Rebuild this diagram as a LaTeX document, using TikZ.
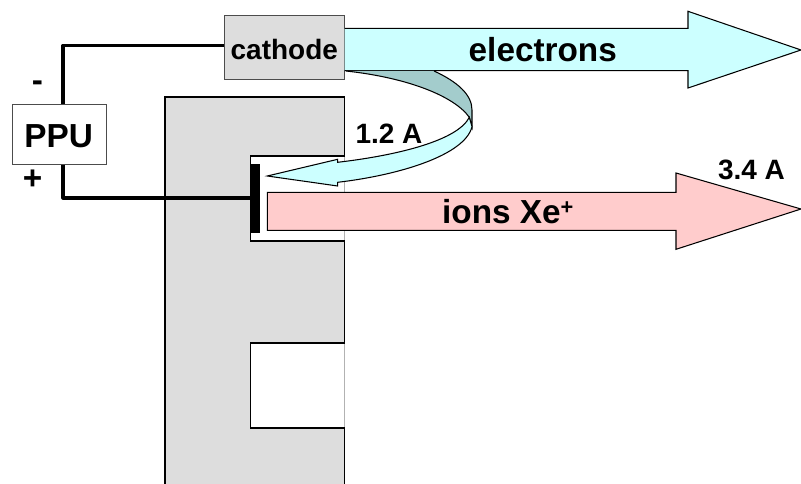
\documentclass[tikz,border=0pt]{standalone}
\usepackage{fontspec}
\setmainfont{Liberation Sans}
\usetikzlibrary{arrows}

\definecolor{bodygray}{HTML}{DDDDDD}
\definecolor{beamcyan}{HTML}{CCFFFF}
\definecolor{beampink}{HTML}{FFCCCC}
\definecolor{beamteal}{HTML}{A3CCCC}

\tikzset{
    edge/.style={draw=black, line width=0.75pt, line join=miter},
    wire/.style={line width=2.25pt, black, line join=round},
    bigtext/.style={font=\fontsize{23.7}{26}\bfseries\selectfont, inner sep=0pt, anchor=base},
    smalltext/.style={font=\fontsize{19.9}{22}\bfseries\selectfont, inner sep=0pt, anchor=base}
}

\begin{document}
\begin{tikzpicture}[x=0.025cm, y=-0.025cm]
        \useasboundingbox (0,0) rectangle (801,484);

        \coordinate (A) at (165,484);
        \coordinate (B) at (165,97);
        \coordinate (C) at (344.5,97);
        \coordinate (D) at (344.5,156);
        \coordinate (E) at (250.5,156);
        \coordinate (F) at (250.5,241);
        \coordinate (G) at (344.5,241);
        \coordinate (H) at (344.5,343);
        \coordinate (I) at (250.5,343);
        \coordinate (J) at (250.5,428);
        \coordinate (K) at (344.5,428);
        \coordinate (L) at (344.5,484);
        \coordinate (wireTop) at (63,45.5);
        \coordinate (wireLow) at (63,198);

        % thruster body
        \fill[bodygray] (A) -- (B) -- (C) -- (D) -- (E) -- (F) -- (G) -- (H) -- (I) -- (J) -- (K) -- (L) -- cycle;
        \draw[gray!60, line width=0.6pt] (D) -- (G);
        \draw[gray!60, line width=0.6pt] (H) -- (K);
        \draw[edge] (A) -- (B) -- (C) -- (D) -- (E) -- (F) -- (G) -- (H) -- (I) -- (J) -- (K) -- (L);

        \node[draw=black!70, line width=0.75pt, fill=white, minimum width=2.34cm, minimum height=1.49cm, inner sep=0pt] (PPU) at (59.3,134.5) {};
        \node[bigtext] (PPUtext) at (58.7,147.7) {PPU};
        \node[draw=black!70, line width=0.75pt, fill=bodygray, minimum width=2.99cm, minimum height=1.61cm, inner sep=0pt] (cathode) at (284.7,47.3) {};
        \node[smalltext] (cathodetext) at (284.3,60) {cathode};
        \node[fill=black, minimum width=0.225cm, minimum height=1.725cm, inner sep=0pt] (anode) at (255,198.5) {};

        \draw[wire] (PPU.north -| wireTop) -- (wireTop) -- (wireTop -| cathode.west);
        \draw[wire] (PPU.south -| wireLow) -- (wireLow) -- (wireLow -| anode.west);

        % beams
        \draw[edge, fill=beamcyan] (344.5,28.3) -- (688,28.3) -- (688,11.3) -- (801,50) -- (688,88) -- (688,70.7) -- (344.5,70.7);
        \draw[edge, fill=beampink] (267.3,192.3) -- (676,192.3) -- (676,173) -- (801,209) -- (676,249.3) -- (676,230.3) -- (267.3,230.3) -- cycle;

        \draw[edge, fill=beamteal] (346,71) .. controls (410,78) and (455,97) .. (469.3,117.3) -- (472,126.7) -- (472,110) .. controls (472,95) and (458,82) .. (434,71);
        \draw[edge, fill=beamcyan] (469.3,117.3) .. controls (458,140) and (400,155) .. (337.7,162.3) -- (337.7,159.3) -- (267.3,176) -- (337.7,186) -- (337.7,182.3) .. controls (400,175) and (465,155) .. (472,126.7) -- cycle;

        \node[bigtext] (electrons) at (542.8,61.5) {electrons};
        \node[bigtext] (ions) at (507.8,223.3) {ions Xe\raisebox{6.4pt}{\fontsize{15.5}{16}\bfseries\selectfont +}};
        \node[smalltext] (leak) at (389,143.2) {1.2 A};
        \node[smalltext] (beam) at (751.5,180) {3.4 A};
        \node[bigtext] (minus) at (37.5,92) {-};
        \node[bigtext] (plus) at (32.7,190) {+};
    \end{tikzpicture}
\end{document}
